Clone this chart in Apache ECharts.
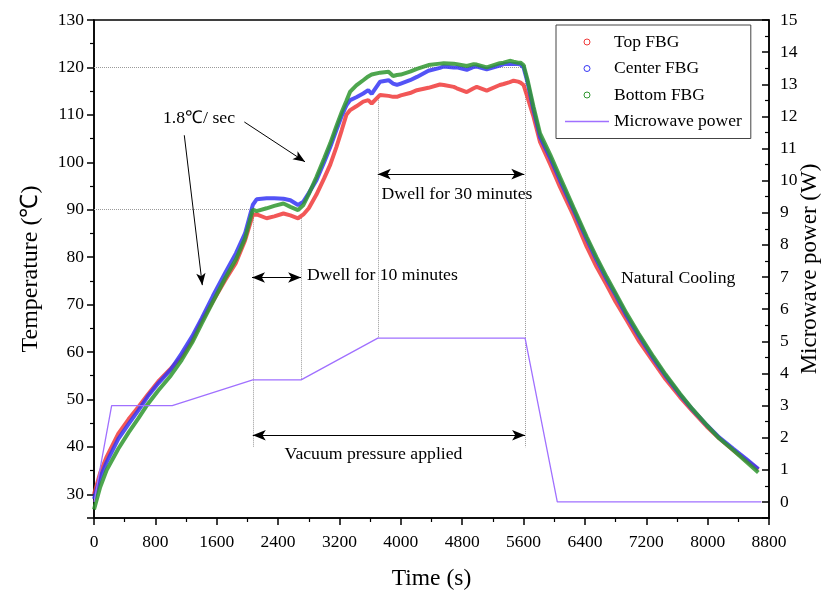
<!DOCTYPE html>
<html><head><meta charset="utf-8">
<script src="https://cdn.jsdelivr.net/npm/echarts@6/dist/echarts.min.js"></script>
<style>html,body{margin:0;padding:0;background:#fff}#c{width:833px;height:595px}</style>
</head><body><div id="c"></div>
<script>
// ---- data ----
const timeS = [0, 80, 165, 317, 450, 578, 700, 838, 1000, 1143, 1280, 1404, 1550, 1708, 1850, 1969, 2070, 2120, 2250, 2350, 2470, 2560, 2660, 2730, 2800, 2900, 3000, 3080, 3160, 3230, 3290, 3340, 3420, 3510, 3575, 3620, 3730, 3840, 3900, 3950, 4000, 4120, 4210, 4360, 4510, 4560, 4690, 4730, 4860, 4880, 4950, 4990, 5120, 5290, 5340, 5420, 5470, 5530, 5560, 5600, 5650, 5730, 5815, 5950, 6075, 6250, 6423, 6550, 6684, 6800, 6945, 7100, 7293, 7450, 7640, 7800, 7988, 8150, 8335, 8500, 8661];
const topFBG = [30.0, 34.5, 37.9, 42.8, 45.8, 48.4, 51.0, 53.8, 56.5, 59.0,
  62.5, 66.6, 70.7, 75.1, 78.8, 83.5, 88.9, 89.0, 88.2, 88.6,
  89.2, 88.8, 88.2, 89.0, 90.3, 93.2, 96.6, 99.5, 103.2, 106.8,
  110.0, 111.0, 111.8, 112.8, 113.1, 112.4, 114.2, 114.0, 113.8, 113.8,
  114.1, 114.6, 115.2, 115.7, 116.4, 116.3, 115.9, 115.6, 114.8, 114.7,
  115.6, 115.9, 115.1, 116.3, 116.5, 116.9, 117.2, 117.0, 116.8, 116.3,
  113.8, 109.6, 104.3, 99.5, 94.8, 88.8, 82.2, 78.0, 74.1, 70.6,
  66.7, 62.4, 57.9, 54.3, 50.5, 47.6, 44.3, 41.8, 39.3, 37.2,
  35.2];
const centerFBG = [29.0, 33.5, 36.8, 41.7, 44.8, 47.7, 50.6, 53.4, 56.3, 59.7,
  63.3, 67.1, 71.8, 76.6, 80.8, 85.0, 91.0, 92.2, 92.4, 92.4,
  92.3, 92.0, 91.0, 91.7, 93.5, 96.2, 100.0, 103.2, 106.8, 109.8,
  112.0, 113.1, 113.7, 114.5, 115.2, 114.4, 117.0, 117.3, 116.6, 116.3,
  116.6, 117.3, 118.0, 119.3, 119.9, 120.2, 120.0, 120.0, 119.5, 119.6,
  120.1, 120.2, 119.6, 120.4, 120.7, 120.7, 120.7, 120.7, 120.6, 120.0,
  117.0, 111.0, 105.3, 100.8, 96.2, 90.0, 83.8, 79.5, 75.3, 72.0,
  67.6, 63.5, 58.6, 55.0, 51.0, 47.9, 44.6, 42.0, 39.6, 37.5,
  35.3];
const bottomFBG = [26.8, 31.5, 35.1, 39.6, 43.0, 46.0, 49.0, 51.9, 55.0, 58.3,
  62.0, 66.0, 70.6, 75.5, 79.5, 84.0, 90.0, 89.7, 90.3, 90.8,
  91.3, 90.6, 89.9, 91.0, 93.3, 96.9, 100.8, 104.0, 107.6, 110.6,
  112.9, 114.9, 116.2, 117.3, 118.1, 118.5, 118.9, 119.1, 118.2, 118.4,
  118.5, 119.1, 119.7, 120.5, 120.8, 120.9, 120.8, 120.7, 120.3, 120.4,
  120.7, 120.6, 120.0, 120.9, 121.0, 121.4, 121.2, 121.0, 121.0, 120.5,
  117.5, 111.7, 106.1, 101.5, 96.9, 90.5, 84.3, 80.0, 75.8, 72.4,
  68.1, 63.9, 59.0, 55.3, 51.2, 48.0, 44.6, 41.8, 39.3, 36.9,
  34.6];
const powerTime = [0, 230, 1020, 2070, 2700, 3700, 5620, 6040, 8700];
const powerW = [0, 3.0, 3.0, 3.8, 3.8, 5.1, 5.1, 0, 0];
const seriesNames = ['Top FBG', 'Center FBG', 'Bottom FBG', 'Microwave power'];
const xRange = [0, 8800], xStep = 800;
const tempRange = [25, 130], tempStep = 10;
const powerRange = [-0.5, 15], powerStep = 1;

// ---- chart ----
const FONT = '"Liberation Serif", "Times New Roman", serif';
const C_TOP = '#f03a3a', C_CEN = '#3535f5', C_BOT = '#2f962f', C_PWR = '#a070ff';
const pair = (xs, ys) => xs.map((t, i) => [t, ys[i]]);
const dot = {type: 'dotted', color: '#9a9a9a', width: 1};
const blk = {type: 'solid', color: '#000', width: 1};
function seg(a, b, style, s0, s1, size) {
  return [{coord: a, symbol: s0, symbolSize: size, lineStyle: style},
          {coord: b, symbol: s1, symbolSize: size}];
}
const chart = echarts.init(document.getElementById('c'), null, {renderer: 'canvas'});
const fbg = (name, data, color, extra) => Object.assign({
  name, type: 'line', yAxisIndex: 0, data, symbol: 'emptyCircle', symbolSize: 5,
  showSymbol: false, lineStyle: {color, width: 4, opacity: 0.85}, itemStyle: {color},
  emphasis: {disabled: true}, silent: true
}, extra || {});
const plain = v => String(v);
const tickLbl = {fontFamily: FONT, fontSize: 17.5, color: '#000', formatter: plain};
const ring = c => ({color: '#fff', borderColor: c, borderWidth: 1});
const option = {
  animation: false,
  backgroundColor: '#fff',
  grid: {left: 94, right: 64, top: 20, bottom: 77, containLabel: false, outerBoundsMode: 'none',
         show: true, borderColor: '#000', borderWidth: 1.5, backgroundColor: 'transparent'},
  legend: {
    orient: 'vertical', left: 556, top: 25, itemWidth: 44, itemHeight: 6, itemGap: 8.5,
    padding: [8, 9, 8, 9], borderColor: '#444', borderWidth: 1, itemTextGap: 6,
    textStyle: {fontFamily: FONT, fontSize: 17.5, color: '#000'},
    data: [{name: seriesNames[0], icon: 'circle', itemStyle: ring(C_TOP)},
           {name: seriesNames[1], icon: 'circle', itemStyle: ring(C_CEN)},
           {name: seriesNames[2], icon: 'circle', itemStyle: ring(C_BOT)},
           {name: seriesNames[3], icon: 'path://M0,0L44,0L44,1.6L0,1.6Z', itemStyle: {color: C_PWR, borderWidth: 0}}]
  },
  xAxis: {
    type: 'value', min: xRange[0], max: xRange[1], interval: xStep,
    name: 'Time (s)', nameLocation: 'middle', nameGap: 49, nameMoveOverlap: false,
    nameTextStyle: {fontFamily: FONT, fontSize: 23.5, color: '#000'},
    axisLine: {show: true, onZero: false, lineStyle: {color: '#000', width: 1.5}},
    axisTick: {show: true, length: 7, lineStyle: {color: '#000', width: 1.5}},
    minorTick: {show: true, splitNumber: 2, length: 4, lineStyle: {color: '#000', width: 1.2}},
    axisLabel: Object.assign({margin: 15}, tickLbl),
    splitLine: {show: false}
  },
  yAxis: [{
    type: 'value', position: 'left', min: tempRange[0], max: tempRange[1], splitNumber: 10,
    minInterval: tempStep, maxInterval: tempStep,
    name: 'Temperature (℃)', nameLocation: 'middle', nameGap: 51, nameRotate: 90, nameMoveOverlap: false,
    nameTextStyle: {fontFamily: FONT, fontSize: 24, color: '#000'},
    axisLine: {show: true, onZero: false, lineStyle: {color: '#000', width: 1.5}},
    axisTick: {show: true, length: 7, lineStyle: {color: '#000', width: 1.5}},
    minorTick: {show: true, splitNumber: 2, length: 4, lineStyle: {color: '#000', width: 1.2}},
    axisLabel: Object.assign({margin: 10, showMinLabel: false}, tickLbl),
    splitLine: {show: false}
  }, {
    type: 'value', position: 'right', min: powerRange[0], max: powerRange[1], splitNumber: 15,
    minInterval: powerStep, maxInterval: powerStep,
    name: 'Microwave power (W)', nameLocation: 'middle', nameGap: 29.5, nameRotate: 90, nameMoveOverlap: false,
    nameTextStyle: {fontFamily: FONT, fontSize: 23, color: '#000'},
    axisLine: {show: true, onZero: false, lineStyle: {color: '#000', width: 1.5}},
    axisTick: {show: true, inside: true, length: 7, lineStyle: {color: '#000', width: 1.5}},
    minorTick: {show: true, splitNumber: 2, length: 4, lineStyle: {color: '#000', width: 1.2}},
    axisLabel: Object.assign({margin: 11, showMinLabel: false}, tickLbl),
    splitLine: {show: false}
  }],
  series: [
    fbg(seriesNames[0], pair(timeS, topFBG), C_TOP, {
      markLine: {
        silent: true, z: 1, animation: false, label: {show: false}, emphasis: {disabled: true},
        data: [
          seg([0, 120], [5620, 120], dot, 'none', 'none', 0),
          seg([0, 90], [2070, 90], dot, 'none', 'none', 0),
          seg([2070, 90], [2070, 39.9], dot, 'none', 'none', 0),
          seg([5620, 120.5], [5620, 39.9], dot, 'none', 'none', 0),
          seg([2700, 88.2], [2700, 54.2], dot, 'none', 'none', 0),
          seg([3700, 113.6], [3700, 62.9], dot, 'none', 'none', 0),
          seg([2060, 75.7], [2700, 75.7], blk, 'arrow', 'arrow', [8, 13]),
          seg([3700, 97.5], [5610, 97.5], blk, 'arrow', 'arrow', [8, 13]),
          seg([2070, 42.45], [5620, 42.45], blk, 'arrow', 'arrow', [8, 13]),
          seg([1177, 105.7], [1412, 74.1], blk, 'none', 'arrow', [7, 12]),
          seg([1960, 108.5], [2751, 100.1], blk, 'none', 'arrow', [7, 12])
        ]
      }
    }),
    fbg(seriesNames[1], pair(timeS, centerFBG), C_CEN),
    fbg(seriesNames[2], pair(timeS, bottomFBG), C_BOT),
    {name: seriesNames[3], type: 'line', yAxisIndex: 1, data: pair(powerTime, powerW),
     symbol: 'none', lineStyle: {color: C_PWR, width: 1.3}, itemStyle: {color: C_PWR},
     emphasis: {disabled: true}, silent: true, z: 4}
  ],
  graphic: [
    {type: 'text', x: 163, y: 118, style: {text: '1.8℃/ sec', font: '17.7px ' + FONT, fill: '#000', verticalAlign: 'middle', textVerticalAlign: 'middle'}},
    {type: 'text', x: 307, y: 275, style: {text: 'Dwell for 10 minutes', font: '17.7px ' + FONT, fill: '#000', verticalAlign: 'middle', textVerticalAlign: 'middle'}},
    {type: 'text', x: 457, y: 194, style: {text: 'Dwell for 30 minutes', font: '17.7px ' + FONT, fill: '#000', align: 'center', textAlign: 'center', verticalAlign: 'middle', textVerticalAlign: 'middle'}},
    {type: 'text', x: 373.5, y: 454, style: {text: 'Vacuum pressure applied', font: '17.7px ' + FONT, fill: '#000', align: 'center', textAlign: 'center', verticalAlign: 'middle', textVerticalAlign: 'middle'}},
    {type: 'text', x: 621, y: 278, style: {text: 'Natural Cooling', font: '17.7px ' + FONT, fill: '#000', verticalAlign: 'middle', textVerticalAlign: 'middle'}}
  ]
};
chart.setOption(option);
</script>
</body></html>
